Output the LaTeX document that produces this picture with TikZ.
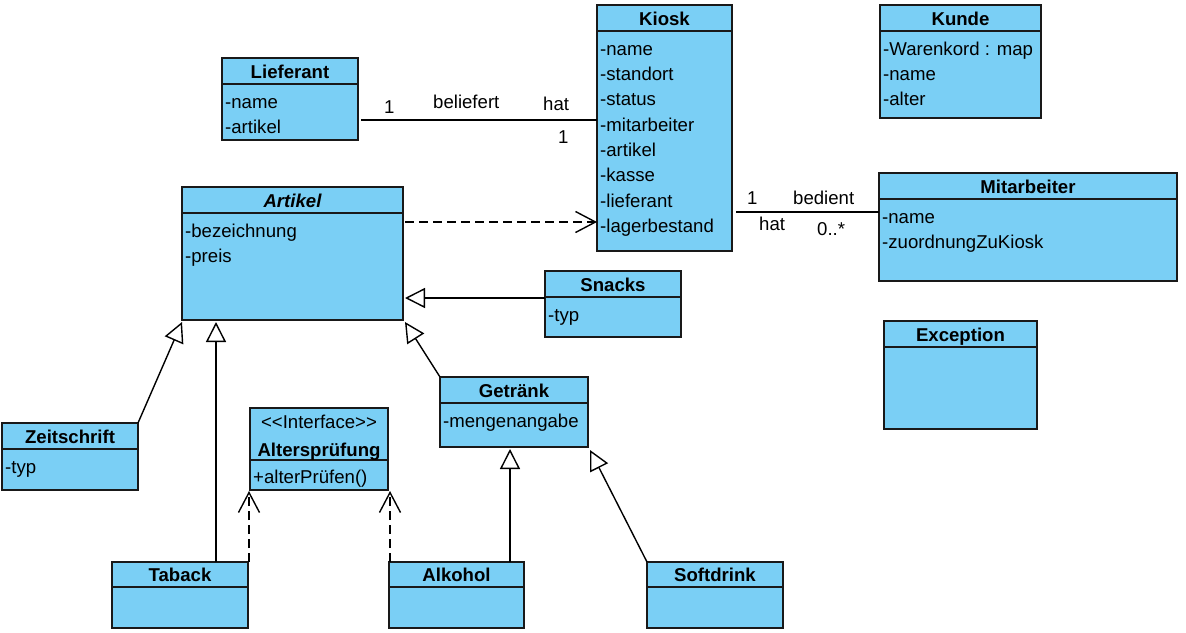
\documentclass[tikz,border=0pt]{standalone}
\usepackage{fontspec}
\setmainfont{Liberation Sans}
\usetikzlibrary{arrows.meta}
\definecolor{clsfill}{RGB}{122,207,245}
\definecolor{clsline}{RGB}{25,25,25}
\newcommand\clshead[2]{\draw[line width=1.4pt, draw=clsline] ([yshift=-#2]#1.north west) -- ([yshift=-#2]#1.north east);}
\begin{document}
\begin{tikzpicture}[x=1pt,y=-1pt,
  font=\fontsize{18.6}{22}\selectfont,
  cls/.style={draw=clsline, fill=clsfill, line width=1.4pt, anchor=north west, inner sep=0pt, outer sep=0pt},
  title/.style={anchor=base, font=\fontsize{18.6}{22}\selectfont\bfseries, inner sep=0pt},
  attr/.style={anchor=base west, inner sep=0pt},
  lbl/.style={anchor=base west, inner sep=0pt},
  conn/.style={line width=1.4pt, draw=black},
  gen/.style={conn, -{Triangle[length=20pt,width=20pt,fill=white,line width=1.4pt]}},
  dep/.style={conn, dash pattern=on 9pt off 5pt, -{Straight Barb[length=20pt,width=21pt,line width=1.4pt]}},
]
\useasboundingbox (0,0) rectangle (1186,632);

% class boxes
\node[cls, minimum width=136pt, minimum height=82pt]  (lief)   at (222,58)  {};
\node[cls, minimum width=135pt, minimum height=246pt] (kiosk)  at (597,5)   {};
\node[cls, minimum width=161pt, minimum height=113pt] (kunde)  at (880,5)   {};
\node[cls, minimum width=298pt, minimum height=108pt] (mit)    at (879,173) {};
\node[cls, minimum width=153pt, minimum height=108pt] (exc)    at (884,321) {};
\node[cls, minimum width=221pt, minimum height=133pt] (art)    at (182,187) {};
\node[cls, minimum width=136pt, minimum height=66pt]  (snacks) at (545,271) {};
\node[cls, minimum width=148pt, minimum height=70pt]  (getr)   at (440,377) {};
\node[cls, minimum width=136pt, minimum height=67pt]  (zeit)   at (2,423)   {};
\node[cls, minimum width=138pt, minimum height=82pt]  (alt)    at (250,408) {};
\node[cls, minimum width=136pt, minimum height=66pt]  (taback) at (112,562) {};
\node[cls, minimum width=135pt, minimum height=66pt]  (alk)    at (389,562) {};
\node[cls, minimum width=136pt, minimum height=66pt]  (soft)   at (647,562) {};

% header separators
\clshead{lief}{26pt}
\clshead{kiosk}{26pt}
\clshead{kunde}{26pt}
\clshead{mit}{26pt}
\clshead{exc}{26pt}
\clshead{art}{26pt}
\clshead{snacks}{26pt}
\clshead{getr}{26pt}
\clshead{zeit}{26pt}
\clshead{alt}{52pt}
\clshead{taback}{25pt}
\clshead{alk}{25pt}
\clshead{soft}{25pt}

% titles
\node[title] (lief-t)   at ([yshift=-20pt]lief.north)   {Lieferant};
\node[title] (kiosk-t)  at ([yshift=-20pt]kiosk.north)  {Kiosk};
\node[title] (kunde-t)  at ([yshift=-20pt]kunde.north)  {Kunde};
\node[title] (mit-t)    at ([yshift=-20pt]mit.north)    {Mitarbeiter};
\node[title] (exc-t)    at ([yshift=-20pt]exc.north)    {Exception};
\node[title, font=\fontsize{18.6}{22}\selectfont\bfseries\itshape] (art-t) at ([yshift=-20pt]art.north) {Artikel};
\node[title] (snacks-t) at ([yshift=-20pt]snacks.north) {Snacks};
\node[title] (getr-t)   at ([yshift=-20pt]getr.north)   {Getränk};
\node[title] (zeit-t)   at ([yshift=-20pt]zeit.north)   {Zeitschrift};
\node[title, font=\fontsize{18.6}{22}\selectfont] (alt-s) at ([yshift=-20pt]alt.north) {<\kern0pt<Interface>\kern0pt>};
\node[title] (alt-t)    at ([yshift=-48pt]alt.north)    {Altersprüfung};
\node[title] (taback-t) at ([yshift=-19pt]taback.north) {Taback};
\node[title] (alk-t)    at ([yshift=-19pt]alk.north)    {Alkohol};
\node[title] (soft-t)   at ([yshift=-19pt]soft.north)   {Softdrink};

% attributes
\node[attr] (lief-a1) at ([xshift=3pt,yshift=-50pt]lief.north west) {-name};
\node[attr] (lief-a2) at ([xshift=3pt,yshift=-75.4pt]lief.north west) {-artikel};

\node[attr] (kiosk-a1) at ([xshift=3pt,yshift=-50pt]kiosk.north west)    {-name};
\node[attr] (kiosk-a2) at ([xshift=3pt,yshift=-75.3pt]kiosk.north west)  {-standort};
\node[attr] (kiosk-a3) at ([xshift=3pt,yshift=-100.6pt]kiosk.north west) {-status};
\node[attr] (kiosk-a4) at ([xshift=3pt,yshift=-126pt]kiosk.north west)   {-mitarbeiter};
\node[attr] (kiosk-a5) at ([xshift=3pt,yshift=-151.3pt]kiosk.north west) {-artikel};
\node[attr] (kiosk-a6) at ([xshift=3pt,yshift=-176.6pt]kiosk.north west) {-kasse};
\node[attr] (kiosk-a7) at ([xshift=3pt,yshift=-202pt]kiosk.north west)   {-lieferant};
\node[attr] (kiosk-a8) at ([xshift=3pt,yshift=-227.3pt]kiosk.north west) {-lagerbestand};

\node[attr] (kunde-a1) at ([xshift=3pt,yshift=-50pt]kunde.north west)    {-Warenkord : map};
\node[attr] (kunde-a2) at ([xshift=3pt,yshift=-75.3pt]kunde.north west)  {-name};
\node[attr] (kunde-a3) at ([xshift=3pt,yshift=-100.6pt]kunde.north west) {-alter};

\node[attr] (mit-a1) at ([xshift=3pt,yshift=-50pt]mit.north west)   {-name};
\node[attr] (mit-a2) at ([xshift=3pt,yshift=-75.3pt]mit.north west) {-zuordnungZuKiosk};

\node[attr] (art-a1) at ([xshift=3pt,yshift=-50pt]art.north west)   {-bezeichnung};
\node[attr] (art-a2) at ([xshift=3pt,yshift=-75.3pt]art.north west) {-preis};

\node[attr] (snacks-a1) at ([xshift=3pt,yshift=-50pt]snacks.north west) {-typ};
\node[attr] (getr-a1)   at ([xshift=3pt,yshift=-50pt]getr.north west)   {-mengenangabe};
\node[attr] (zeit-a1)   at ([xshift=3pt,yshift=-50pt]zeit.north west)   {-typ};
\node[attr] (alt-a1)    at ([xshift=3pt,yshift=-75pt]alt.north west)    {+alterPrüfen()};

% associations
\draw[conn] ([xshift=3pt,yshift=-62pt]lief.north east) -- ([yshift=-115pt]kiosk.north west);
\draw[conn] ([xshift=4pt,yshift=-207pt]kiosk.north east) -- ([yshift=-39pt]mit.north west);

% dependency
\draw[dep] ([xshift=2pt,yshift=-35pt]art.north east) -- ([yshift=-217pt]kiosk.north west);

% generalizations
\draw[gen] ([yshift=-27pt]snacks.north west) -- ([xshift=2pt,yshift=-111pt]art.north east);
\draw[gen] (zeit.north east) -- ([yshift=-2pt]art.south west);
\draw[gen] ([xshift=104pt]taback.north west) -- ([xshift=34pt,yshift=-2pt]art.south west);
\draw[gen] (getr.north west) -- ([xshift=2pt,yshift=-2pt]art.south east);
\draw[gen] ([xshift=121pt]alk.north west) -- ([xshift=70pt,yshift=-2pt]getr.south west);
\draw[gen] (soft.north west) -- ([xshift=2pt,yshift=-3pt]getr.south east);

% realizations
\draw[dep] ([xshift=1pt]taback.north east) -- ([xshift=-1pt,yshift=-1pt]alt.south west);
\draw[dep] ([xshift=1pt]alk.north west) -- ([xshift=2pt,yshift=-1pt]alt.south east);

% association labels
\node[lbl] (l1) at (384,113) {1};
\node[lbl] (l2) at (433,108) {beliefert};
\node[lbl] (l3) at (543,110) {hat};
\node[lbl] (l4) at (558,143) {1};
\node[lbl] (l5) at (747,204) {1};
\node[lbl] (l6) at (793,204) {bedient};
\node[lbl] (l7) at (759,230) {hat};
\node[lbl] (l8) at (817,235) {0..*};
\end{tikzpicture}
\end{document}
